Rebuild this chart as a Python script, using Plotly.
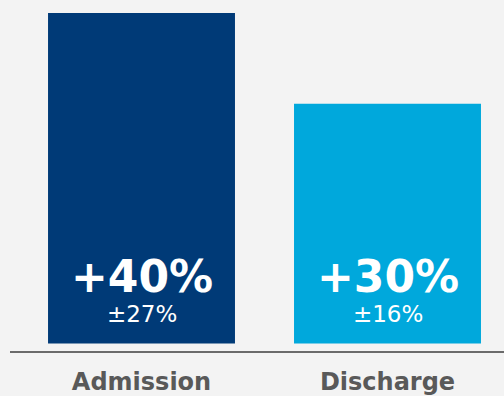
import plotly.graph_objects as go

categories = ["Admission", "Discharge"]
bar_heights = [40, 29]          # bar heights
change_labels = ["+40%", "+30%"]
spread_labels = ["±27%", "±16%"]
colors = ["#003A77", "#00A8DC"]

x = list(range(len(categories)))

fig = go.Figure()
fig.add_trace(go.Bar(
    x=x, y=bar_heights, width=0.76,
    marker=dict(color=colors, line=dict(width=0)),
    hoverinfo="skip",
))

FONT = "DejaVu Sans"
for xi, c, s in zip(x, change_labels, spread_labels):
    txt = ("<span style='font-size:44px;font-weight:bold'>" + c + "</span><br>" + s)
    fig.add_annotation(x=xi, xref="x", y=0.177, yref="paper", text=txt,
                       showarrow=False, yanchor="middle",
                       font=dict(family=FONT, size=23, color="white"))

fig.update_layout(
    width=504, height=396,
    margin=dict(l=10, r=0, t=0, b=42),
    paper_bgcolor="#F3F3F3", plot_bgcolor="#F3F3F3",
    showlegend=False,
    xaxis=dict(range=[-0.5346, 1.4736], tickvals=x,
               ticktext=["<b>" + c + "</b>" for c in categories],
               tickfont=dict(family=FONT, size=24, color="#595959"),
               showline=True, linecolor="#6B6B6B", linewidth=2,
               showgrid=False, zeroline=False, ticks="", ticklabelstandoff=8),
    yaxis=dict(range=[-0.9, 41.56], visible=False, showgrid=False, zeroline=False),
)

fig.write_html("out.html")
